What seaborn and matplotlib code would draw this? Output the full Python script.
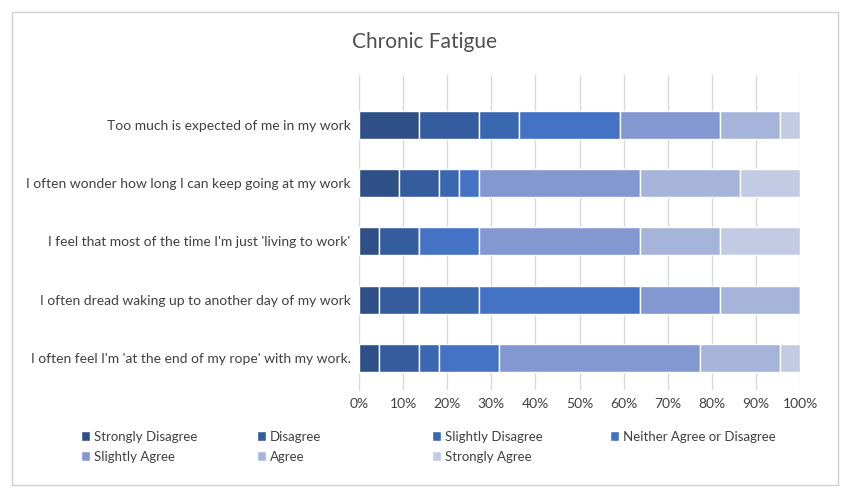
import numpy as np
import pandas as pd
import matplotlib.pyplot as plt
import seaborn as sns
from matplotlib.ticker import PercentFormatter
from matplotlib.patches import Rectangle

statements = [
    "Too much is expected of me in my work",
    "I often wonder how long I can keep going at my work",
    "I feel that most of the time I'm just 'living to work'",
    "I often dread waking up to another day of my work",
    "I often feel I'm 'at the end of my rope' with my work.",
]
categorias = ["Strongly Disagree", "Disagree", "Slightly Disagree",
              "Neither Agree or Disagree", "Slightly Agree", "Agree", "Strongly Agree"]
cores = ["#2E5086", "#355C9E", "#3A68B0", "#4472C4", "#8397D0", "#A7B4DA", "#C3CBE4"]

# counts per statement (out of 22 respondents)
strongly_disagree = [3, 2, 1, 1, 1]
disagree = [3, 2, 2, 2, 2]
slightly_disagree = [2, 1, 0, 3, 1]
neither = [5, 1, 3, 8, 3]
slightly_agree = [5, 8, 8, 4, 10]
agree = [3, 5, 4, 4, 4]
strongly_agree = [1, 3, 4, 0, 1]

df = pd.DataFrame(
    np.array([strongly_disagree, disagree, slightly_disagree, neither,
              slightly_agree, agree, strongly_agree]).T,
    index=statements, columns=categorias)
pct = df.div(df.sum(axis=1), axis=0) * 100

sns.set_style("white")
plt.rcParams['font.family'] = ['Lato', 'DejaVu Sans']
fig = plt.figure(figsize=(8.5, 4.96), dpi=100)
ax = fig.add_axes([359/850, 1-390/496, 441/850, 315/496])

y = np.arange(len(statements))
left = np.zeros(len(statements))
for cat, cor in zip(categorias, cores):
    ax.barh(y, pct[cat].values, left=left, height=0.48, color=cor, label=cat, zorder=3)
    left += pct[cat].values

ax.set_yticks(y)
ax.set_yticklabels(statements, fontsize=10, color='#404040')
ax.invert_yaxis()
ax.set_ylim(4.55, -0.85)
ax.set_xlim(0, 100)
ax.set_xticks(range(0, 101, 10))
ax.xaxis.set_major_formatter(PercentFormatter(decimals=0))
ax.tick_params(axis='x', labelsize=10, colors='#404040', length=0, pad=6)
ax.tick_params(axis='y', length=0, pad=6)
ax.grid(axis='x', color='#d9d9d9', linewidth=1, zorder=0)
for s in ['top', 'right', 'bottom']:
    ax.spines[s].set_visible(False)
ax.spines['left'].set_color('#d9d9d9')

fig.text(0.5, 1-42/496, 'Chronic Fatigue', ha='center', va='center', fontsize=15, color='#505050')
fig.patches.append(Rectangle((12/850, 1-485/496), 826/850, 473/496, transform=fig.transFigure,
                             fill=False, edgecolor='#d0d0d0', linewidth=1))

# legend: 4 columns laid out row by row
handles, labels = ax.get_legend_handles_labels()
col_x = [74, 250, 425, 603]
for c, x0 in enumerate(col_x):
    idx = [i for i in (c, c + 4) if i < len(handles)]
    fig.legend([handles[i] for i in idx], [labels[i] for i in idx], loc='upper left',
               bbox_to_anchor=(x0/850, 1-424/496), frameon=False, fontsize=9.5,
               handlelength=0.7, handleheight=0.7, handletextpad=0.3,
               labelspacing=0.6, labelcolor='#404040', borderpad=0)

fig.savefig('out.png', dpi=100)
